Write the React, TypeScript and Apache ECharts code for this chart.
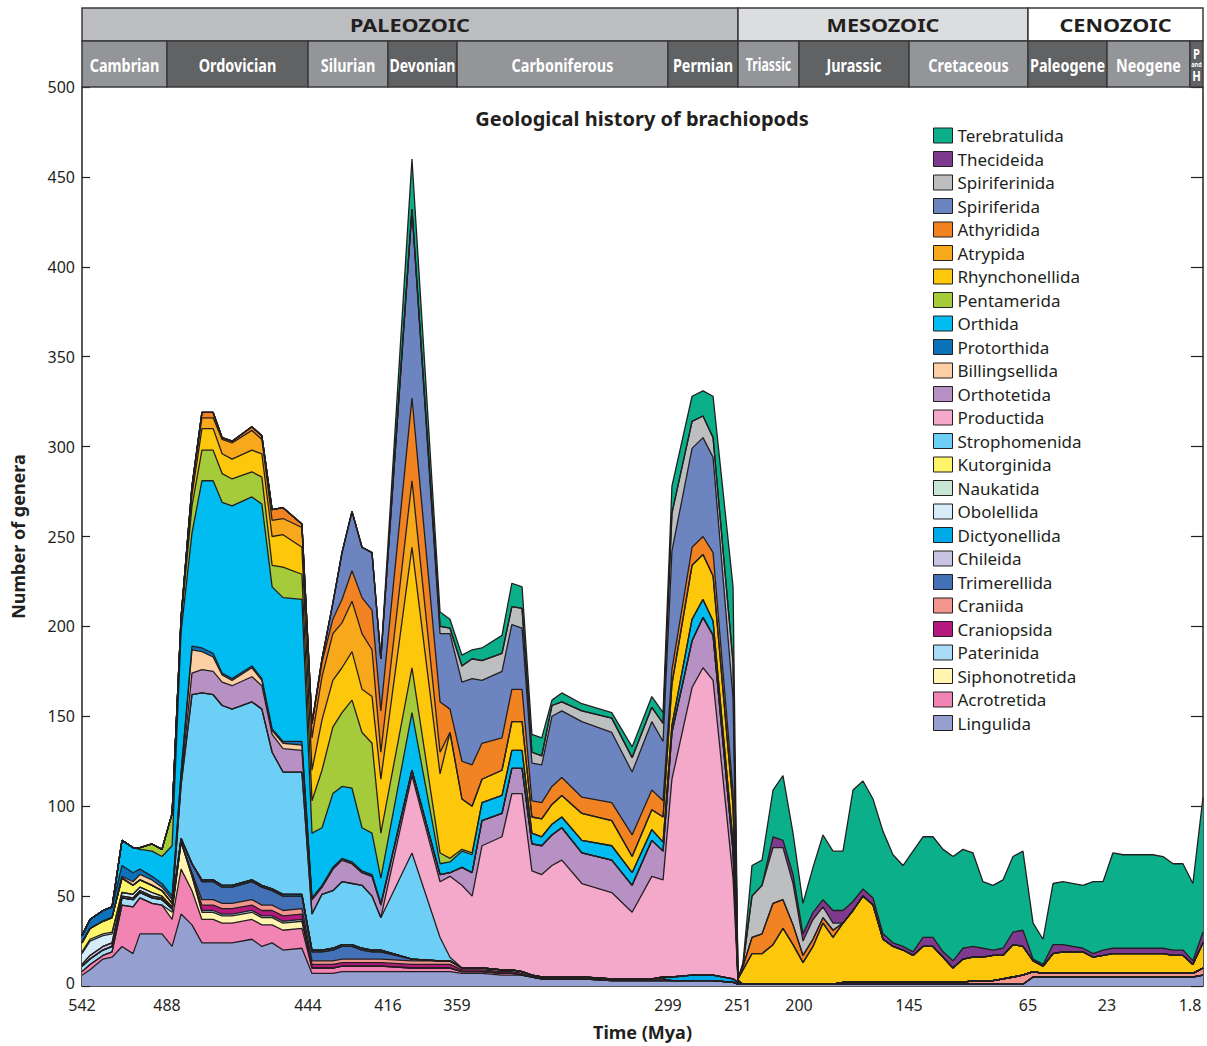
import React, { useEffect, useRef } from 'react';
import * as echarts from 'echarts';

// ---- time axis layout: geological period boundaries (Mya) and the width of each period column ----
const boundaryMya = [542, 488, 444, 416, 359, 299, 251, 200, 145, 65, 23, 1.8, 0];
const periodWidths = [85, 141, 80, 69, 211, 70, 61, 110, 119, 79, 83, 13];
const tickLabels = ['542', '488', '444', '416', '359', '299', '251', '200', '145', '65', '23', '1.8'];
const periodNames = ['Cambrian', 'Ordovician', 'Silurian', 'Devonian', 'Carboniferous', 'Permian', 'Triassic', 'Jurassic', 'Cretaceous', 'Paleogene', 'Neogene', 'P and H'];
const eraNames = ['PALEOZOIC', 'MESOZOIC', 'CENOZOIC'];
const eraBoundsMya = [542, 251, 65, 0];

// ---- sample times (Mya) ----
const times = [
  542, 536.9, 528.7, 522.9, 516.6, 509.6, 505.2, 497.5, 491.2, 486.4,
  483.6, 480.2, 477.1, 473.6, 470.8, 467.7, 461.5, 458.4, 455.2, 451.8,
  445.9, 442.6, 439.1, 435.3, 432.1, 428.6, 425.1, 421.6, 418.5, 396.2,
  373.0, 364.8, 357.6, 354.7, 351.9, 346.2, 343.4, 340.5, 337.7, 334.9,
  332.0, 329.2, 323.5, 315.0, 309.2, 303.6, 300.4, 296.3, 282.5, 275.0,
  268.1, 254.4, 251, 246.8, 239.3, 230.9, 221.7, 213.4, 205.0, 198,
  193, 188, 183, 178, 173, 168, 163, 158, 153, 148,
  142.3, 135.6, 128.9, 122.1, 115.4, 108.7, 102.0, 95.3, 88.5, 81.8,
  75.1, 68.4, 62.3, 57.0, 51.7, 46.4, 35.8, 30.4, 25.1, 21.5,
  18.9, 11.3, 8.7, 6.1, 3.6, 1.4, 0,
];
const N = times.length;
function span(start: number, vals: number[]): number[] {
  const out: number[] = new Array(N).fill(0);
  vals.forEach((v, k) => { out[start + k] = v; });
  return out;
}

// ---- genera per order (stacked bottom -> top) ----
const lingulida = [
  6, 9, 15, 16, 22, 18, 29, 29, 29, 22,
  40, 34, 24, 24, 24, 24, 26, 22, 24, 20,
  21, 7, 7, 7, 8, 8, 8, 8, 8, 8,
  8, 8, 7, 7, 7, 6, 6, 6, 5, 4,
  4, 4, 4, 3, 3, 3, 3, 3, 3, 3,
  3, 2, 1, 1, 1, 1, 1, 1, 1, 1,
  1, 1, 1, 1, 1, 1, 1, 1, 1, 1,
  1, 1, 1, 1, 1, 1, 1, 1, 1, 1,
  1, 1, 5, 5, 5, 5, 5, 5, 5, 5,
  5, 5, 5, 5, 5, 5, 6,
];
const acrotretida = span(0, [2, 3, 2, 3, 23, 26, 20, 17, 16, 15, 25, 19, 13, 13, 11, 11, 11, 12, 10, 11, 11, 3, 3, 3, 3, 3, 3, 3, 3, 2, 2, 2, 1, 1, 1, 1, 1]);
const siphonotretida = span(9, [4, 15, 8, 4, 4, 4, 4, 4, 4, 4, 4, 4]);
const paterinida = span(0, [3, 3, 3, 3, 4, 4, 3, 3, 3, 2, 0, 0, 1, 1, 1, 1, 1, 1, 1, 1, 1]);
const craniopsida = span(11, [1, 3, 3, 3, 3, 3, 3, 3, 3, 3, 2, 2, 2, 2, 2, 2, 2, 2, 2, 2, 2, 1, 1, 1, 1, 1, 1]);
const craniida = span(11, [
  1,
  3, 3, 3, 3, 3, 3, 3, 3, 3,
  2, 2, 2, 2, 2, 2, 2, 2, 2, 2, 2,
  1, 1, 1, 1, 1, 1, 1, 1, 1, 1, 1, 1, 1, 1, 1,
  0, 0, 0, 0, 0, 0, 0, 0, 0, 0, 0, 0, 0, 0, 0, 0,
  1, 1, 1, 1, 1, 1, 1, 1, 1, 1, 1, 1, 1,
  2, 2, 2, 3, 4, 5, 3,
  2, 2, 2, 2, 2, 2, 2, 2, 2, 2, 2, 2, 2,
  4,
]);
const trimerellida = span(10, [2, 5, 10, 10, 9, 9, 10, 10, 8, 8, 7, 5, 5, 6, 7, 7, 5, 4, 4, 1]);
const chileida = span(0, [1, 2, 2, 2, 1, 1, 1, 1, 1]);
const dictyonellida = span(12, [
  1, 1, 1, 1, 1, 1, 1, 1, 1, 1, 1, 1, 1, 1, 1, 1, 1,
  0, 0, 0, 0, 0, 0, 0, 0, 0, 0, 0, 0, 0, 0, 0, 0, 0,
  1, 2, 3, 3, 3, 2, 1,
]);
const obolellida = span(0, [6, 8, 6, 5, 2, 2, 2, 2, 1, 1]);
const naukatida = span(0, [1, 1, 1, 1]);
const kutorginida = span(0, [5, 6, 7, 8, 8, 5, 4, 4, 3, 2]);
const strophomenida = span(10, [30, 94, 104, 103, 100, 98, 99, 98, 76, 68, 68, 20, 31, 32, 35, 34, 35, 30, 18, 59, 13, 2]);
const productida = span(29, [43, 31, 45, 46, 40, 68, 74, 98, 99, 58, 57, 62, 65, 52, 48, 37, 57, 54, 110, 160, 171, 164, 56, 1]);
const orthotetida = span(10, [
  3, 12, 13, 13, 13, 13, 14, 13, 10, 13,
  12, 8, 4, 12, 12, 11, 7, 11, 7, 3,
  4, 2, 10, 13, 14, 13, 14, 14, 15, 16,
  17, 18, 17, 18, 15, 20, 16, 26, 26, 28,
  25, 15,
]);
const billingsellida = span(4, [1, 2, 3, 3, 2, 2, 3, 13, 10, 8, 4, 3, 5, 3, 2, 3, 3]);
const protorthida = span(0, [4, 5, 6, 6, 6, 5, 3, 2, 2, 2, 1, 2, 2, 2, 1, 1, 1, 1, 1, 1, 2, 1, 1, 1, 1, 1, 1, 1, 1]);
const orthida = span(4, [
  14, 14, 11, 14, 15, 28, 78, 63, 93, 96,
  95, 96, 94, 97, 79, 80, 79, 36, 32, 41,
  40, 41, 24, 23, 14, 32, 6, 6, 9, 10,
  10, 10, 10, 10, 6, 5, 6, 6, 7, 8,
  7, 6, 5, 4, 12, 10, 8, 5,
]);
const pentamerida = span(6, [1, 4, 4, 18, 6, 15, 17, 17, 16, 15, 14, 15, 12, 17, 14, 18, 32, 37, 41, 49, 53, 50, 25, 25, 6, 2, 1, 1]);
const rhynchonellida = span(10, [
  2, 6, 12, 12, 11, 11, 12, 13, 16, 18,
  15, 17, 28, 26, 25, 27, 24, 26, 30, 67,
  44, 70, 28, 26, 13, 14, 16, 16, 9, 10,
  11, 12, 15, 14, 9, 11, 14, 23, 30, 25,
  25, 20, 1, 8, 17, 17, 22, 31, 22, 12,
  21, 34, 26, 33, 40, 48, 43, 24, 20, 18,
  15, 20, 20, 14, 8, 13, 13, 13, 14, 13,
  18, 16, 6, 4, 11, 12, 12, 9, 10, 11,
  11, 11, 11, 10, 10, 5, 14,
]);
const atrypida = span(11, [4, 6, 6, 8, 9, 11, 8, 9, 9, 11, 18, 24, 26, 25, 28, 31, 26, 15, 37, 12]);
const athyridida = span(11, [
  1, 3, 3, 1, 1, 2, 2, 6, 6, 2,
  8, 8, 8, 13, 17, 20, 22, 23, 46, 28,
  13, 21, 23, 20, 18, 18, 18, 9, 9, 10,
  10, 9, 10, 12, 11, 9, 8, 10, 10, 13,
  8, 0, 2, 9, 11, 23, 16, 11, 4, 4, 3, 4,
]);
const spiriferida = span(22, [
  2, 9, 26, 33, 28, 32, 29, 105, 38, 42,
  44, 48, 35, 37, 36, 34, 21, 21, 39, 37,
  42, 39, 35, 38, 33, 66, 55, 55, 53, 52,
]);
const spiriferinida = span(30, [
  4, 3, 9, 11, 11, 10, 10, 11, 6, 5,
  6, 5, 6, 8, 8, 8, 10, 21, 15, 12,
  11, 20, 0, 1, 23, 27, 31, 29, 23, 8,
  11, 6, 4,
]);
const thecideida = span(56, [
  6, 4, 5, 4, 4, 4, 7, 7, 5, 4,
  4, 3, 2, 2, 2, 5, 5, 3, 4, 6,
  6, 5, 3, 4, 7, 9, 1, 1, 5, 4,
  2, 2, 3, 3, 3, 3, 3, 3, 3, 2, 6,
]);
const terebratulida = span(29, [
  28, 8, 5, 6, 5, 7, 10, 13, 12, 10,
  10, 3, 5, 4, 3, 6, 6, 6, 15, 14,
  14, 23, 42, 0, 1, 17, 14, 26, 36, 23,
  17, 25, 36, 33, 33, 62, 60, 55, 57, 49,
  45, 56, 56, 56, 57, 58, 55, 52, 37, 36,
  38, 42, 44, 20, 14, 34, 35, 35, 40, 38,
  53, 52, 52, 51, 48, 48, 43, 75,
]);

const seriesNames = [
  'Lingulida', 'Acrotretida', 'Siphonotretida', 'Paterinida', 'Craniopsida', 'Craniida',
  'Trimerellida', 'Chileida', 'Dictyonellida', 'Obolellida', 'Naukatida', 'Kutorginida',
  'Strophomenida', 'Productida', 'Orthotetida', 'Billingsellida', 'Protorthida', 'Orthida',
  'Pentamerida', 'Rhynchonellida', 'Atrypida', 'Athyridida', 'Spiriferida', 'Spiriferinida',
  'Thecideida', 'Terebratulida',
];
const seriesValues = [
  lingulida, acrotretida, siphonotretida, paterinida, craniopsida, craniida,
  trimerellida, chileida, dictyonellida, obolellida, naukatida, kutorginida,
  strophomenida, productida, orthotetida, billingsellida, protorthida, orthida,
  pentamerida, rhynchonellida, atrypida, athyridida, spiriferida, spiriferinida,
  thecideida, terebratulida,
];
const seriesColors = [
  '#959fd0', '#f184b3', '#fff5b1', '#a8dcf6', '#b5197e', '#f3958f',
  '#4271b7', '#c6c3e3', '#00a9e8', '#d6ecf9', '#c9e6d4', '#fff56b',
  '#6dcff6', '#f4a9cb', '#b891c4', '#fccfa5', '#0b72b9', '#00bcf0',
  '#a6cb3a', '#fdc70c', '#f7a81b', '#f28323', '#6c84c0', '#bcbec0',
  '#7d3a8e', '#0bb08b',
];

const eraFills = ['#bcbdc0', '#dcdddf', '#ffffff'];
const periodFills = ['#939598', '#616264'];

const INK = '#231f20';
const FONT = "'Noto Sans', 'Open Sans', sans-serif";

// cumulative positions of the period boundaries on the time axis
const boundaryPos: number[] = [0];
periodWidths.forEach((w) => boundaryPos.push(boundaryPos[boundaryPos.length - 1] + w));
const axisMax = boundaryPos[boundaryPos.length - 1];
const tickPos = boundaryPos.slice(0, tickLabels.length);

function toPos(mya: number): number {
  for (let i = 0; i < boundaryMya.length - 1; i++) {
    const a = boundaryMya[i];
    const b = boundaryMya[i + 1];
    if (mya <= a && mya >= b) {
      return boundaryPos[i] + ((a - mya) / (a - b)) * (boundaryPos[i + 1] - boundaryPos[i]);
    }
  }
  return mya > boundaryMya[0] ? 0 : axisMax;
}

function buildOption() {
  const timePos = times.map(toPos);

  // running totals: each order's upper boundary in the stack
  const cumulative: number[][] = [];
  seriesValues.forEach((vals, i) => {
    cumulative.push(vals.map((v, j) => v + (i > 0 ? cumulative[i - 1][j] : 0)));
  });

  // draw the top-most layer first so every lower layer is painted over it
  const order = seriesNames.map((_, i) => i).reverse();
  const areaSeries = order.map((i) => ({
    name: seriesNames[i],
    type: 'line',
    xAxisIndex: 0,
    yAxisIndex: 0,
    symbol: 'none',
    showSymbol: false,
    silent: true,
    data: cumulative[i].map((v, j) => [timePos[j], v]),
    lineStyle: { color: INK, width: 1.3 },
    itemStyle: { color: seriesColors[i] },
    areaStyle: { color: seriesColors[i], opacity: 1, origin: 'start' },
    emphasis: { disabled: true },
  }));

  const eraData = eraNames.map((_, i) => [toPos(eraBoundsMya[i]), toPos(eraBoundsMya[i + 1])]);
  const periodData = periodNames.map((_, i) => [boundaryPos[i], boundaryPos[i + 1]]);

  const eraSeries = {
    type: 'custom',
    xAxisIndex: 1,
    yAxisIndex: 2,
    silent: true,
    clip: false,
    data: eraData,
    renderItem: (params: any, api: any) => {
      const i = params.dataIndex;
      const p0 = api.coord([api.value(0), 79]);
      const p1 = api.coord([api.value(1), 46]);
      return {
        type: 'group',
        children: [
          {
            type: 'rect',
            shape: { x: p0[0], y: p0[1], width: p1[0] - p0[0], height: p1[1] - p0[1] },
            style: { fill: eraFills[i], stroke: '#3a3a3a', lineWidth: 1.5 },
          },
          {
            type: 'text',
            x: (p0[0] + p1[0]) / 2,
            y: (p0[1] + p1[1]) / 2 + 1,
            scaleX: 1.2,
            style: {
              text: eraNames[i],
              x: 0,
              y: 0,
              align: 'center',
              verticalAlign: 'middle',
              fill: INK,
              fontSize: 18,
              fontWeight: 'bold',
              fontFamily: FONT,
            },
          },
        ],
      };
    },
  };

  const periodSeries = {
    type: 'custom',
    xAxisIndex: 1,
    yAxisIndex: 2,
    silent: true,
    clip: false,
    data: periodData,
    renderItem: (params: any, api: any) => {
      const i = params.dataIndex;
      const p0 = api.coord([api.value(0), 46]);
      const p1 = api.coord([api.value(1), 0]);
      const w = p1[0] - p0[0];
      const cx = (p0[0] + p1[0]) / 2;
      const cy = (p0[1] + p1[1]) / 2;
      const name = periodNames[i];
      const small = w < 30;
      const fontSize = 18;
      const est = name.length * 0.57 * fontSize;
      const sx = Math.min(0.8, (w - 5) / est);
      const label = small
        ? {
            type: 'text',
            x: cx,
            y: cy,
            scaleX: 0.8,
            style: {
              text: '{b|P}\n{s|and}\n{b|H}',
              x: 0,
              y: 0,
              align: 'center',
              verticalAlign: 'middle',
              fill: '#fff',
              rich: {
                b: { fontSize: 14, fontWeight: 'bold', fill: '#fff', lineHeight: 14, fontFamily: FONT, align: 'center' },
                s: { fontSize: 7, fontWeight: 'bold', fill: '#fff', lineHeight: 8, fontFamily: FONT, align: 'center' },
              },
            },
          }
        : {
            type: 'text',
            x: cx,
            y: cy + 1,
            scaleX: sx,
            style: {
              text: name,
              x: 0,
              y: 0,
              align: 'center',
              verticalAlign: 'middle',
              fill: '#fff',
              fontSize,
              fontWeight: 'bold',
              fontFamily: FONT,
            },
          };
      return {
        type: 'group',
        children: [
          {
            type: 'rect',
            shape: { x: p0[0], y: p0[1], width: w, height: p1[1] - p0[1] },
            style: { fill: periodFills[i % 2], stroke: '#3a3a3a', lineWidth: 1.5 },
          },
          label,
        ],
      };
    },
  };

  return {
    animation: false,
    backgroundColor: '#ffffff',
    textStyle: { fontFamily: FONT, color: INK },
    title: {
      text: 'Geological history of brachiopods',
      left: 642,
      top: 108,
      textAlign: 'center',
      padding: 0,
      textStyle: { fontSize: 20, fontWeight: 'bold', color: INK, fontFamily: FONT },
    },
    legend: {
      orient: 'vertical',
      left: 928,
      top: 122,
      icon: 'rect',
      itemWidth: 19,
      itemHeight: 15,
      itemGap: 6.5,
      selectedMode: false,
      textStyle: { fontSize: 17, color: INK, fontFamily: FONT },
      data: [...seriesNames].reverse().map((n) => ({
        name: n,
        itemStyle: { color: seriesColors[seriesNames.indexOf(n)], borderColor: INK, borderWidth: 1 },
      })),
    },
    grid: [
      { left: 82, top: 87, width: axisMax, height: 899 },
      { left: 82, top: 8, width: axisMax, height: 79 },
    ],
    xAxis: [
      {
        type: 'value',
        gridIndex: 0,
        min: 0,
        max: axisMax,
        name: 'Time (Mya)',
        nameLocation: 'middle',
        nameGap: 37,
        nameTextStyle: { fontSize: 18, fontWeight: 'bold', color: INK, fontFamily: FONT },
        axisLine: { show: true, lineStyle: { color: INK, width: 1.5 } },
        axisTick: { show: true, inside: true, length: 8, customValues: tickPos, lineStyle: { color: INK, width: 1.2 } },
        axisLabel: {
          show: true,
          customValues: tickPos,
          margin: 11,
          fontSize: 16,
          lineHeight: 16,
          color: INK,
          fontFamily: FONT,
          formatter: (val: number) => {
            const k = tickPos.findIndex((p) => Math.abs(p - val) < 0.5);
            return k >= 0 ? tickLabels[k] : '';
          },
        },
        splitLine: { show: false },
      },
      { type: 'value', gridIndex: 1, min: 0, max: axisMax, show: false },
    ],
    yAxis: [
      {
        type: 'value',
        gridIndex: 0,
        min: 0,
        max: 500,
        interval: 50,
        name: 'Number of genera',
        nameLocation: 'middle',
        nameGap: 55,
        nameTextStyle: { fontSize: 18, fontWeight: 'bold', color: INK, fontFamily: FONT },
        axisLine: { show: true, lineStyle: { color: INK, width: 1.5 } },
        axisTick: { show: true, inside: true, length: 8, lineStyle: { color: INK, width: 1.2 } },
        axisLabel: {
          margin: 7,
          fontSize: 16,
          lineHeight: 16,
          color: INK,
          fontFamily: FONT,
          formatter: (v: number) => (v === 0 ? '{z|0}' : String(v)),
          rich: { z: { fontSize: 16, lineHeight: 16, color: INK, fontFamily: FONT, padding: [0, 0, 7, 0] } },
        },
        splitLine: { show: false },
      },
      {
        type: 'value',
        gridIndex: 0,
        min: 0,
        max: 500,
        interval: 50,
        position: 'right',
        axisLine: { show: true, lineStyle: { color: INK, width: 1.5 } },
        axisTick: { show: true, inside: true, length: 12, lineStyle: { color: INK, width: 1.2 } },
        axisLabel: { show: false },
        splitLine: { show: false },
      },
      { type: 'value', gridIndex: 1, min: 0, max: 79, show: false },
    ],
    series: [...areaSeries, eraSeries, periodSeries],
  };
}

export default function App() {
  const ref = useRef<HTMLDivElement>(null);
  useEffect(() => {
    document.body.style.margin = '0';
    document.body.style.overflow = 'hidden';
    const chart = echarts.init(ref.current as HTMLDivElement, null, { renderer: 'svg' });
    chart.setOption(buildOption() as any);
    return () => {
      chart.dispose();
    };
  }, []);
  return <div ref={ref} style={{ width: 1207, height: 1046 }} />;
}
